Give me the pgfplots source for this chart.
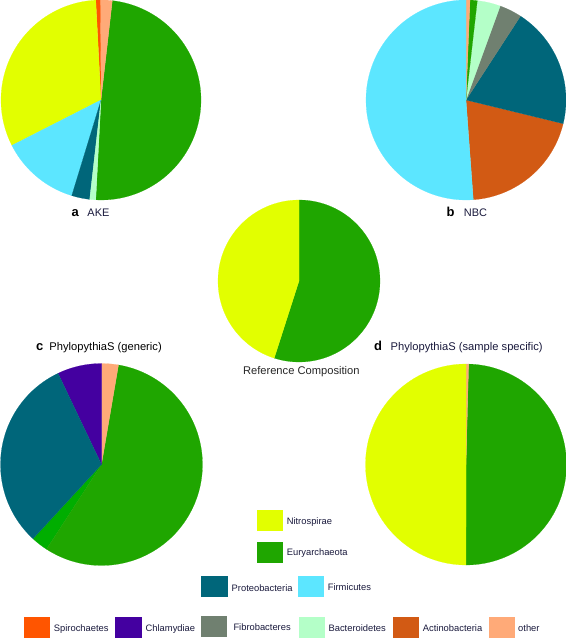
\documentclass[border=0pt]{standalone}
\usepackage{pgfplots}
\pgfplotsset{compat=1.18}
\usepackage{fontspec}
\setmainfont{Liberation Sans}
\definecolor{Nitro}{RGB}{226,255,0}
\definecolor{Eury}{RGB}{31,166,0}
\definecolor{Strip}{RGB}{0,174,0}
\definecolor{Proteo}{RGB}{0,102,122}
\definecolor{Firmi}{RGB}{92,230,255}
\definecolor{Spiro}{RGB}{255,85,0}
\definecolor{Chlamy}{RGB}{68,0,160}
\definecolor{Fibro}{RGB}{112,128,112}
\definecolor{Bactero}{RGB}{180,255,200}
\definecolor{Actino}{RGB}{210,90,20}
\definecolor{Other}{RGB}{255,170,120}
\definecolor{txt}{RGB}{25,25,60}
% one pie slice: colour, start angle, end angle (degrees, counter-clockwise from east)
\newcommand{\slice}[3]{\addplot[fill=#1, draw=#1, line width=0.15pt, domain=#2:#3, samples=90] ({cos(x)},{sin(x)}) -- (0,0) -- cycle;}
\pgfplotsset{pie/.style={anchor=origin, scale only axis, hide axis, xmin=-1, xmax=1, ymin=-1, ymax=1, clip=false}}
\begin{document}
\begin{tikzpicture}
\path[use as bounding box] (0bp,0bp) rectangle (566bp,-639bp);
% a AKE
\begin{axis}[pie, at={(101bp,-100bp)}, width=200bp, height=200bp]
\slice{Eury}{-93}{83.5}
\slice{Other}{83.5}{90.5}
\slice{Spiro}{90.5}{93}
\slice{Nitro}{93}{207}
\slice{Firmi}{207}{253}
\slice{Proteo}{253}{263.5}
\slice{Bactero}{263.5}{267}
\end{axis}
% b NBC
\begin{axis}[pie, at={(466bp,-100bp)}, width=200bp, height=200bp]
\slice{Actino}{-85.8}{-13.7}
\slice{Proteo}{-13.7}{57}
\slice{Fibro}{57}{70}
\slice{Bactero}{70}{83.5}
\slice{Eury}{83.5}{87.7}
\slice{Other}{87.7}{90}
\slice{Firmi}{90}{274.2}
\end{axis}
% Reference composition
\begin{axis}[pie, at={(299bp,-281bp)}, width=162bp, height=162bp]
\slice{Eury}{-107.8}{90}
\slice{Nitro}{90}{252.2}
\end{axis}
% c PhylopythiaS (generic)
\begin{axis}[pie, at={(101.5bp,-464.5bp)}, width=202bp, height=202bp]
\slice{Strip}{-132.7}{-123}
\slice{Eury}{-123}{80.3}
\slice{Other}{80.3}{90}
\slice{Chlamy}{90}{115.5}
\slice{Proteo}{115.5}{227.3}
\end{axis}
% d PhylopythiaS (sample specific)
\begin{axis}[pie, at={(466bp,-464.5bp)}, width=201bp, height=201bp]
\slice{Eury}{-90}{88.5}
\slice{Other}{88.5}{90}
\slice{Nitro}{90}{270}
\end{axis}
\begin{scope}[x=1bp, y=-1bp]
% panel labels
\node[anchor=base west, inner sep=0pt, font=\fontsize{13}{15}\selectfont\bfseries] at (71.5,216) {a};
\node[anchor=base west, inner sep=0pt, font=\fontsize{11}{13}\selectfont, text=txt] at (87.3,216) {AKE};
\node[anchor=base west, inner sep=0pt, font=\fontsize{13}{15}\selectfont\bfseries] at (446.5,216) {b};
\node[anchor=base west, inner sep=0pt, font=\fontsize{11}{13}\selectfont, text=txt] at (463.7,216) {NBC};
\node[anchor=base west, inner sep=0pt, font=\fontsize{13}{15}\selectfont\bfseries] at (36,350.7) {c};
\node[anchor=base west, inner sep=0pt, font=\fontsize{11.2}{13}\selectfont] at (49.3,350.7) {PhylopythiaS (generic)};
\node[anchor=base west, inner sep=0pt, font=\fontsize{13}{15}\selectfont\bfseries] at (374,350.7) {d};
\node[anchor=base west, inner sep=0pt, font=\fontsize{11.2}{13}\selectfont, text=txt] at (390.5,350.7) {PhylopythiaS (sample specific)};
\node[anchor=base, inner sep=0pt, font=\fontsize{11.2}{13}\selectfont, text=black!85] at (301.3,374) {Reference Composition};
% legend
\fill[Nitro] (256.5,510) rectangle (283,531);
\node[anchor=base west, inner sep=0pt, font=\fontsize{9.4}{11}\selectfont, text=txt] at (286.6,524) {Nitrospirae};
\fill[Eury] (256.5,541.7) rectangle (283,562.5);
\node[anchor=base west, inner sep=0pt, font=\fontsize{9.4}{11}\selectfont, text=txt] at (286.6,555.8) {Euryarchaeota};
\fill[Proteo] (201.4,575.7) rectangle (228,596.7);
\node[anchor=base west, inner sep=0pt, font=\fontsize{9.4}{11}\selectfont, text=txt] at (231.5,591) {Proteobacteria};
\fill[Firmi] (297.5,575.7) rectangle (324,596.7);
\node[anchor=base west, inner sep=0pt, font=\fontsize{9.4}{11}\selectfont, text=txt] at (327.6,590) {Firmicutes};
\fill[Spiro] (23.6,616.7) rectangle (50,637.5);
\node[anchor=base west, inner sep=0pt, font=\fontsize{9.4}{11}\selectfont, text=txt] at (53.7,631) {Spirochaetes};
\fill[Chlamy] (115.4,616.7) rectangle (142,637.5);
\node[anchor=base west, inner sep=0pt, font=\fontsize{9.4}{11}\selectfont, text=txt] at (145.5,631) {Chlamydiae};
\fill[Fibro] (200.7,615.5) rectangle (227,636.5);
\node[anchor=base west, inner sep=0pt, font=\fontsize{9.4}{11}\selectfont, text=txt] at (233.3,630.5) {Fibrobacteres};
\fill[Bactero] (298.6,616.7) rectangle (325,637.5);
\node[anchor=base west, inner sep=0pt, font=\fontsize{9.4}{11}\selectfont, text=txt] at (328.4,631) {Bacteroidetes};
\fill[Actino] (392.6,616.7) rectangle (419,637.5);
\node[anchor=base west, inner sep=0pt, font=\fontsize{9.4}{11}\selectfont, text=txt] at (422.7,631) {Actinobacteria};
\fill[Other] (488.8,616.7) rectangle (515,637.5);
\node[anchor=base west, inner sep=0pt, font=\fontsize{9.4}{11}\selectfont, text=txt] at (518,631) {other};
\end{scope}
\end{tikzpicture}
\end{document}
